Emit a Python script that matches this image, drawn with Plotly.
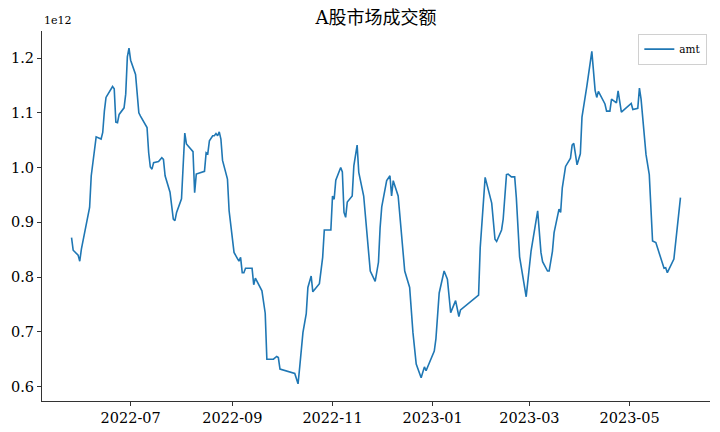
import plotly.graph_objects as go

# trading dates (vertices) and turnover amount in units of 1e12
dates = [
    "2022-05-26","2022-05-27","2022-05-30","2022-05-31","2022-06-01","2022-06-06","2022-06-07","2022-06-08",
    "2022-06-09","2022-06-10","2022-06-13","2022-06-14","2022-06-15","2022-06-16","2022-06-20","2022-06-21",
    "2022-06-22","2022-06-23","2022-06-24","2022-06-27","2022-06-28","2022-06-29","2022-06-30","2022-07-01",
    "2022-07-04","2022-07-05","2022-07-06","2022-07-07","2022-07-11","2022-07-12","2022-07-13","2022-07-14",
    "2022-07-15","2022-07-18","2022-07-20","2022-07-21","2022-07-22","2022-07-25","2022-07-26","2022-07-27",
    "2022-07-28","2022-07-29","2022-08-01","2022-08-02","2022-08-03","2022-08-04","2022-08-08","2022-08-09",
    "2022-08-10","2022-08-15","2022-08-16","2022-08-17","2022-08-18","2022-08-20","2022-08-21","2022-08-22",
    "2022-08-23","2022-08-24","2022-08-25","2022-08-26","2022-08-29","2022-08-30","2022-09-02","2022-09-04",
    "2022-09-05","2022-09-06","2022-09-07","2022-09-08","2022-09-09","2022-09-13","2022-09-14","2022-09-15",
    "2022-09-19","2022-09-21","2022-09-22","2022-09-26","2022-09-28","2022-09-29","2022-09-30","2022-10-09",
    "2022-10-11","2022-10-12","2022-10-14","2022-10-16","2022-10-17","2022-10-19","2022-10-20","2022-10-24",
    "2022-10-26","2022-10-27","2022-10-31","2022-11-01","2022-11-02","2022-11-03","2022-11-06","2022-11-07",
    "2022-11-08","2022-11-09","2022-11-10","2022-11-13","2022-11-14","2022-11-16","2022-11-17","2022-11-20",
    "2022-11-22","2022-11-24","2022-11-27","2022-11-29","2022-11-30","2022-12-01","2022-12-04","2022-12-06",
    "2022-12-07","2022-12-08","2022-12-11","2022-12-13","2022-12-15","2022-12-18","2022-12-20","2022-12-22",
    "2022-12-25","2022-12-27","2022-12-28","2023-01-02","2023-01-03","2023-01-05","2023-01-08","2023-01-10",
    "2023-01-12","2023-01-15","2023-01-17","2023-01-18","2023-01-29","2023-01-30","2023-02-02","2023-02-06",
    "2023-02-08","2023-02-09","2023-02-12","2023-02-13","2023-02-15","2023-02-16","2023-02-18","2023-02-20",
    "2023-02-21","2023-02-23","2023-02-25","2023-02-27","2023-03-02","2023-03-04","2023-03-06","2023-03-08",
    "2023-03-09","2023-03-12","2023-03-13","2023-03-15","2023-03-16","2023-03-19","2023-03-20","2023-03-21",
    "2023-03-23","2023-03-26","2023-03-27","2023-03-28","2023-03-30","2023-04-01","2023-04-02","2023-04-05",
    "2023-04-08","2023-04-10","2023-04-11","2023-04-12","2023-04-16","2023-04-17","2023-04-19","2023-04-20",
    "2023-04-23","2023-04-24","2023-04-26","2023-05-02","2023-05-03","2023-05-06","2023-05-07","2023-05-08",
    "2023-05-11","2023-05-13","2023-05-15","2023-05-17","2023-05-20","2023-05-22","2023-05-23","2023-05-24",
    "2023-05-28","2023-06-01",
]
amt = [
    0.872,0.849,0.840,0.829,0.851,0.927,0.985,1.006,
    1.027,1.056,1.052,1.064,1.103,1.128,1.148,1.144,
    1.083,1.082,1.097,1.109,1.134,1.202,1.218,1.196,
    1.170,1.134,1.100,1.094,1.073,1.027,1.001,0.997,
    1.009,1.011,1.018,1.015,0.985,0.955,0.924,0.906,
    0.903,0.918,0.943,1.009,1.063,1.043,1.029,0.954,
    0.988,0.993,1.027,1.025,1.049,1.058,1.058,1.062,
    1.058,1.065,1.052,1.013,0.979,0.921,0.845,0.834,
    0.829,0.836,0.808,0.808,0.816,0.816,0.786,0.798,
    0.775,0.734,0.650,0.650,0.655,0.653,0.632,0.624,
    0.605,0.635,0.699,0.733,0.781,0.802,0.773,0.788,
    0.836,0.886,0.886,0.948,0.942,0.977,1.000,0.992,
    0.918,0.909,0.937,0.948,1.003,1.041,0.991,0.948,
    0.884,0.811,0.792,0.827,0.890,0.928,0.976,0.985,
    0.948,0.976,0.948,0.872,0.811,0.781,0.699,0.641,
    0.616,0.636,0.629,0.665,0.687,0.771,0.811,0.796,
    0.735,0.757,0.728,0.740,0.767,0.854,0.982,0.935,
    0.869,0.865,0.886,0.906,0.987,0.988,0.983,0.983,
    0.945,0.837,0.802,0.764,0.848,0.884,0.921,0.845,
    0.828,0.811,0.811,0.847,0.881,0.924,0.918,0.963,
    1.002,1.017,1.041,1.044,1.005,1.025,1.092,1.149,
    1.212,1.141,1.128,1.139,1.116,1.103,1.103,1.125,
    1.118,1.140,1.101,1.117,1.106,1.108,1.145,1.125,
    1.024,0.987,0.866,0.863,0.836,0.816,0.817,0.808,
    0.833,0.945,
]

x_tick_vals = ["2022-07-01","2022-09-01","2022-11-01","2023-01-01","2023-03-01","2023-05-01"]
x_tick_text = ["2022-07","2022-09","2022-11","2023-01","2023-03","2023-05"]
y_tick_vals = [0.6, 0.7, 0.8, 0.9, 1.0, 1.1, 1.2]
y_tick_text = ["0.6", "0.7", "0.8", "0.9", "1.0", "1.1", "1.2"]

SERIF = "DejaVu Serif, Noto Sans CJK SC, serif"

fig = go.Figure()
fig.add_trace(go.Scatter(
    x=dates, y=amt, mode="lines", name="amt",
    line=dict(color="#1f77b4", width=1.6),
))

fig.update_layout(
    width=720, height=432,
    margin=dict(l=42, r=10, t=31, b=31, autoexpand=False),
    paper_bgcolor="white", plot_bgcolor="white",
    title=dict(text="A股市场成交额", x=0.5, xanchor="center", y=0.958, yanchor="middle",
               xref="paper", font=dict(family=SERIF, size=18, color="black")),
    font=dict(family=SERIF, color="black"),
    showlegend=True,
    legend=dict(x=0.996, y=0.993, xanchor="right", yanchor="top",
                bgcolor="rgba(255,255,255,0.8)", bordercolor="#d0d0d0", borderwidth=1,
                itemwidth=30, tracegroupgap=0,
                font=dict(family=SERIF, size=10.5, color="black")),
    xaxis=dict(
        type="date", range=["2022-05-08", "2023-06-19"], automargin=False,
        tickvals=x_tick_vals, ticktext=x_tick_text,
        showgrid=False, zeroline=False,
        showline=True, linecolor="#333333", linewidth=1,
        ticks="outside", ticklen=4, tickcolor="#333333",
        tickfont=dict(family=SERIF, size=14.5, color="black"),
    ),
    yaxis=dict(
        range=[0.5737, 1.2493], automargin=False,
        tickvals=y_tick_vals, ticktext=y_tick_text,
        showgrid=False, zeroline=False,
        showline=True, linecolor="#333333", linewidth=1,
        ticks="outside", ticklen=4, tickcolor="#333333",
        tickfont=dict(family=SERIF, size=14.5, color="black"),
    ),
)
fig.add_annotation(text="1e12", xref="paper", yref="paper", x=0, y=1.0, xanchor="left",
                   yanchor="bottom", yshift=2, showarrow=False,
                   font=dict(family=SERIF, size=11, color="black"))

fig.write_html("out.html", config={"displayModeBar": False},
               post_script="document.body.style.margin='0';document.body.style.overflow='hidden';")
